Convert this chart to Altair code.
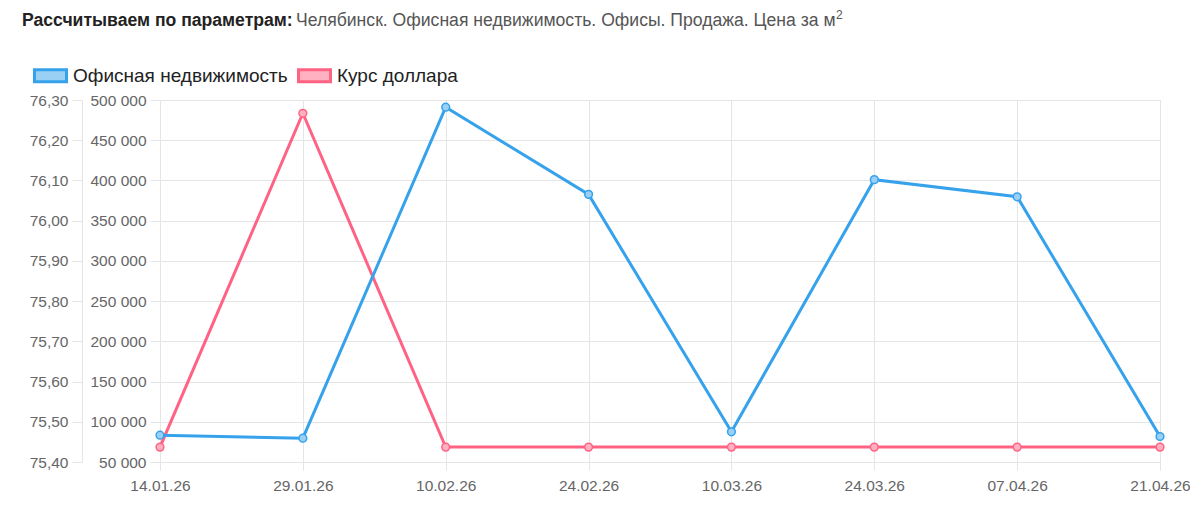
import altair as alt
import pandas as pd

# ---- data ----
dates = ["14.01.26", "29.01.26", "10.02.26", "24.02.26", "10.03.26", "24.03.26", "07.04.26", "21.04.26"]
office_price = [83300, 79600, 491000, 382700, 87500, 401000, 379700, 81700]
dollar_rate = [75.437, 76.267, 75.437, 75.437, 75.437, 75.437, 75.437, 75.437]
series_names = ["Офисная недвижимость", "Курс доллара"]
stroke_colors = ["#36a2eb", "#ff6384"]
fill_colors = ["#9bd0f5", "#ffb1c1"]
price_ticks = [50000, 100000, 150000, 200000, 250000, 300000, 350000, 400000, 450000, 500000]
dollar_ticks = [75.40, 75.50, 75.60, 75.70, 75.80, 75.90, 76.00, 76.10, 76.20, 76.30]
title_bold = "Рассчитываем по параметрам:"
title_rest = "Челябинск. Офисная недвижимость. Офисы. Продажа. Цена за м"
title_sup = "2"

office_df = pd.DataFrame({"date": dates, "value": office_price, "series": series_names[0]})
dollar_df = pd.DataFrame({"date": dates, "value": dollar_rate, "series": series_names[1]})

FONT = "Liberation Sans"
GRID = "#e5e5e5"
LABEL = "#666666"

x_enc = alt.X(
    "date:N",
    sort=dates,
    scale=alt.Scale(type="point", padding=0),
    axis=alt.Axis(
        title=None, labelAngle=0, grid=True, gridColor=GRID, domain=False,
        tickColor=GRID, tickSize=8, labelPadding=8, labelFontSize=15.5,
        labelColor=LABEL, labelFont=FONT,
    ),
)

stroke_scale = alt.Scale(domain=series_names, range=stroke_colors)
fill_scale = alt.Scale(domain=series_names, range=fill_colors)
legend = alt.Legend(
    title=None, orient="none", legendX=-127, legendY=-42, direction="horizontal",
    symbolType="M-1,-0.375H1V0.375H-1Z", symbolSize=1024, symbolStrokeWidth=3,
    labelFontSize=19, labelColor="#222222", labelFont=FONT, labelOffset=5,
    labelLimit=400, columnPadding=4,
)

price_y = alt.Y(
    "value:Q",
    scale=alt.Scale(domain=[50000, 500000], nice=False, zero=False),
    axis=alt.Axis(
        title=None, orient="left", values=price_ticks, grid=True, gridColor=GRID,
        domain=True, domainColor=GRID, tickColor=GRID, tickSize=10, labelPadding=4,
        labelFontSize=15.5, labelColor=LABEL, labelFont=FONT, offset=0,
        labelExpr="replace(format(datum.value, ',d'), ',', ' ')",
    ),
)
dollar_y = alt.Y(
    "value:Q",
    scale=alt.Scale(domain=[75.40, 76.30], nice=False, zero=False),
    axis=alt.Axis(
        title=None, orient="left", values=dollar_ticks, grid=False,
        domain=True, domainColor=GRID, tickColor=GRID, tickSize=10, labelPadding=4,
        labelFontSize=15.5, labelColor=LABEL, labelFont=FONT, offset=78,
        labelExpr="replace(format(datum.value, '.2f'), '.', ',')",
    ),
)

dollar_base = alt.Chart(dollar_df).encode(x=x_enc, y=dollar_y)
dollar_layer = alt.layer(
    dollar_base.mark_line(strokeWidth=3).encode(
        stroke=alt.Stroke("series:N", scale=stroke_scale, legend=legend)),
    dollar_base.mark_point(filled=True, size=60, strokeWidth=1.5, opacity=1).encode(
        stroke=alt.Stroke("series:N", scale=stroke_scale, legend=legend),
        fill=alt.Fill("series:N", scale=fill_scale, legend=legend)),
)

office_base = alt.Chart(office_df).encode(x=x_enc, y=price_y)
office_layer = alt.layer(
    office_base.mark_line(strokeWidth=3).encode(
        stroke=alt.Stroke("series:N", scale=stroke_scale, legend=legend)),
    office_base.mark_point(filled=True, size=60, strokeWidth=1.5, opacity=1).encode(
        stroke=alt.Stroke("series:N", scale=stroke_scale, legend=legend),
        fill=alt.Fill("series:N", scale=fill_scale, legend=legend)),
)

t_bold = alt.Chart(pd.DataFrame({"t": [title_bold]})).mark_text(
    align="left", baseline="middle", fontSize=17.6, fontWeight="bold", font=FONT, color="#222222"
).encode(x=alt.value(-138), y=alt.value(-79), text="t:N")
t_rest = alt.Chart(pd.DataFrame({"t": [title_rest]})).mark_text(
    align="left", baseline="middle", fontSize=17.6, font=FONT, color="#555555"
).encode(x=alt.value(136), y=alt.value(-79), text="t:N")
t_sup = alt.Chart(pd.DataFrame({"t": [title_sup]})).mark_text(
    align="left", baseline="middle", fontSize=12, font=FONT, color="#555555"
).encode(x=alt.value(676), y=alt.value(-85), text="t:N")

chart = alt.layer(
    dollar_layer, office_layer, t_bold, t_rest, t_sup
).resolve_scale(y="independent").properties(
    width=1000, height=362,
    autosize=alt.AutoSizeParams(type="none"),
    padding={"left": 152, "top": 92, "right": 30, "bottom": 45},
).configure_view(stroke=None).configure(background="white")

chart.save("out.html", embed_options={"renderer": "svg", "actions": False})
